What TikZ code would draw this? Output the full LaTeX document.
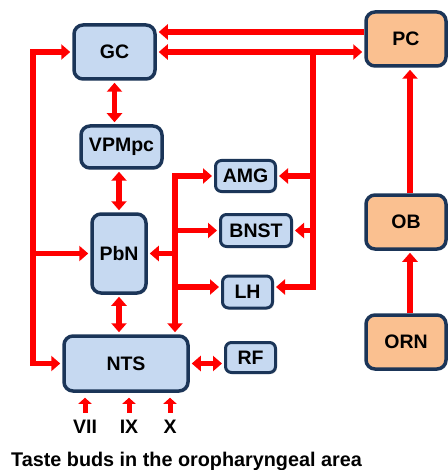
\documentclass[tikz,border=0pt]{standalone}
\usepackage{fontspec}
\setmainfont{Liberation Sans}
\usetikzlibrary{arrows.meta}
\usetikzlibrary{shadows}

\definecolor{nucfill}{HTML}{C6D9F1}
\definecolor{olffill}{HTML}{FAC090}
\definecolor{boxline}{HTML}{1B3558}
\definecolor{pathred}{HTML}{FF0000}

\begin{document}
\begin{tikzpicture}[x=1pt,y=-1pt,
		font=\fontsize{19.5}{23}\selectfont\bfseries,
		nuc/.style = {draw=boxline, fill=nucfill, line width=3.5pt, rounded corners=9pt, inner sep=0pt,
			drop shadow={opacity=0.25, shadow xshift=1.5pt, shadow yshift=-1.5pt}},
		small/.style = {nuc, line width=3pt, rounded corners=6pt},
		olf/.style = {nuc, fill=olffill},
		wire/.style = {pathred, line width=5.5pt},
		arr/.style = {wire, -{Triangle[length=9pt,width=15pt]}, shorten >=2pt},
		dbl/.style = {wire, {Triangle[length=9pt,width=15pt]}-{Triangle[length=9pt,width=15pt]}, shorten >=2pt, shorten <=2pt},
		nerve/.style = {wire, line width=5pt, -{Triangle[length=6pt,width=13pt]}}]
	\useasboundingbox (0,0) rectangle (447,470);

	% gustatory relay nuclei
	\node[nuc, minimum width=81pt, minimum height=54pt] (GC) at (114.5,52) {GC};
	\node[nuc, minimum width=81pt, minimum height=42pt] (VPMpc) at (121.5,147) {VPMpc};
	\node[nuc, minimum width=54pt, minimum height=79pt] (PbN) at (119,253.5) {PbN};
	\node[nuc, minimum width=124pt, minimum height=55pt] (NTS) at (126,363.5) {NTS};
	\node[small, minimum width=60pt, minimum height=31pt] (AMG) at (245.5,176) {AMG};
	\node[small, minimum width=71pt, minimum height=32pt] (BNST) at (256,230.5) {BNST};
	\node[small, minimum width=50pt, minimum height=32pt] (LH) at (247.5,292) {LH};
	\node[small, minimum width=50pt, minimum height=30pt] (RF) at (250.5,357.5) {RF};

	% olfactory side
	\node[olf, minimum width=80pt, minimum height=54pt] (PC) at (406,39) {PC};
	\node[olf, minimum width=80pt, minimum height=54pt] (OB) at (406,222) {OB};
	\node[olf, minimum width=80pt, minimum height=54pt] (ORN) at (406,342) {ORN};

	% cranial nerves and caption
	\node (VII) at (85,427) {VII};
	\node (IX) at (129,427) {IX};
	\node (X) at (170,427) {X};
	\node (buds) at (186.5,461) {\fontsize{19.8}{23}\selectfont Taste buds in the oropharyngeal area};

	% helper coordinates for the trunks
	\coordinate (ltrunk) at (33,52);
	\coordinate (mtrunk) at (175,176);
	\coordinate (rtrunk) at (313,52);
	\coordinate (top) at (0,32);
	\coordinate (lhy) at (0,287);
	\coordinate (olfx) at (410,0);

	% cortex connections
	\draw[arr] (PC.west |- top) -- (GC.east |- top);
	\draw[dbl] (GC.east) -- (GC.east -| PC.west);
	\draw[dbl] (GC.south) -- (GC.south |- VPMpc.north);
	\draw[dbl] (PbN.north) -- (PbN.north |- VPMpc.south);
	\draw[dbl] (PbN.south) -- (PbN.south |- NTS.north);
	\draw[dbl] (NTS.east) -- (NTS.east -| RF.west);

	% descending trunk on the left
	\draw[dbl] (GC.west) -| (ltrunk) |- (NTS.west);
	\draw[arr] (ltrunk |- PbN.west) -- (PbN.west);

	% forebrain trunk from GC/PC
	\draw[arr] (rtrunk) |- (LH.east |- lhy);
	\draw[arr] (rtrunk |- AMG.east) -- (AMG.east);
	\draw[arr] (rtrunk |- BNST.east) -- (BNST.east);

	% middle trunk between PbN and NTS
	\draw[dbl] (AMG.west) -| (mtrunk |- NTS.north);
	\draw[arr] (mtrunk |- BNST.west) -- (BNST.west);
	\draw[arr] (mtrunk |- lhy) -- (LH.west |- lhy);
	\draw[arr] (mtrunk |- PbN.east) -- (PbN.east);

	% olfactory pathway
	\draw[arr] (ORN.north -| olfx) -- (OB.south -| olfx);
	\draw[arr] (OB.north -| olfx) -- (PC.south -| olfx);

	% nerve inputs to NTS
	\foreach \n in {VII,IX,X}
		\draw[nerve] ([yshift=4pt]\n.north) -- ([yshift=-5pt]\n.north |- NTS.south);
\end{tikzpicture}
\end{document}
